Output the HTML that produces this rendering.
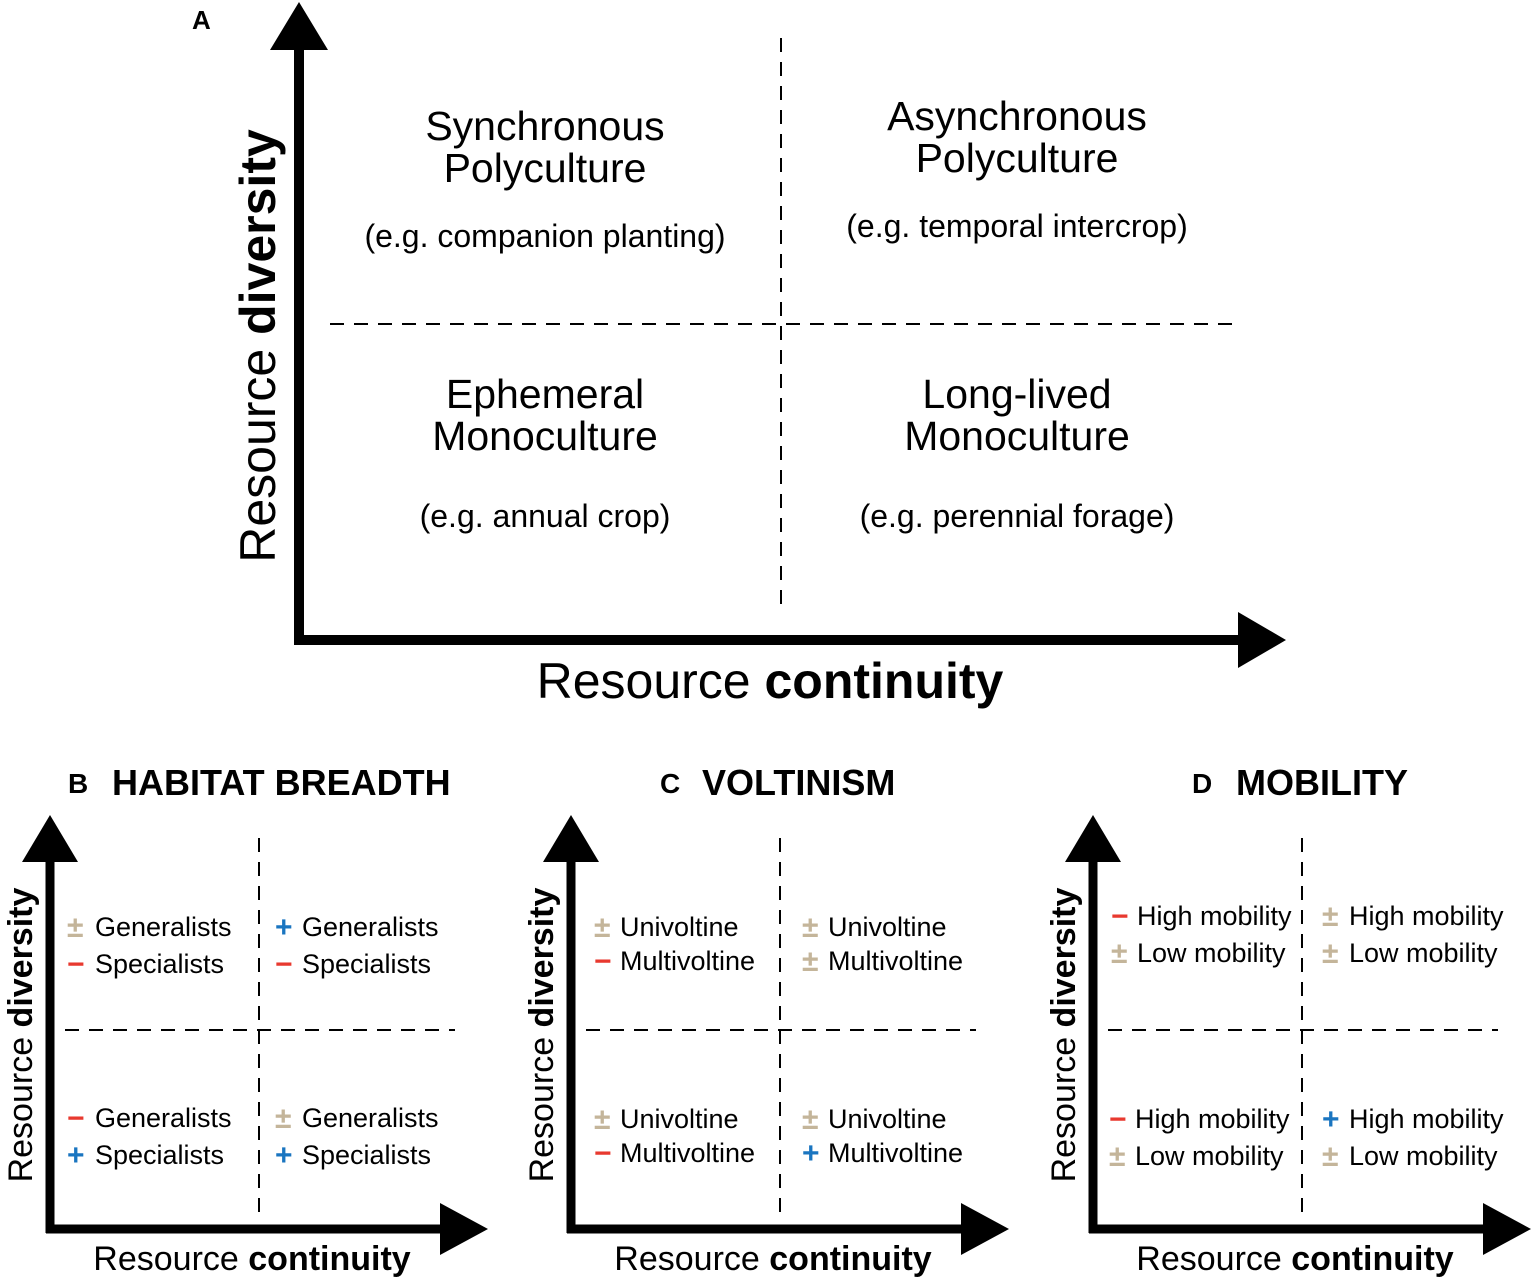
<!DOCTYPE html>
<html><head><meta charset="utf-8"><style>
html,body{margin:0;padding:0;background:#fff}
svg{display:block}
text{font-family:"Liberation Sans","DejaVu Sans",sans-serif;fill:#000}
.t{font-size:27px}
.s{font-weight:bold;font-size:30px}
.tan{fill:#c4b59a}.red{fill:#e8392f}.blue{fill:#1a75c0}
</style></head><body>
<svg width="1535" height="1282" viewBox="0 0 1535 1282" xmlns="http://www.w3.org/2000/svg">
<!-- Panel A -->
<text x="192" y="29" font-size="26" font-weight="bold">A</text>
<line x1="299" y1="40" x2="299" y2="645" stroke="#000" stroke-width="10"/>
<polygon points="270,50 328,50 299,2" fill="#000"/>
<line x1="294" y1="640" x2="1245" y2="640" stroke="#000" stroke-width="10"/>
<polygon points="1238,612 1238,668 1286,640" fill="#000"/>
<line x1="781" y1="38" x2="781" y2="608" stroke="#000" stroke-width="2" stroke-dasharray="14,10"/>
<line x1="330" y1="324" x2="1235" y2="324" stroke="#000" stroke-width="2" stroke-dasharray="14,10"/>
<g font-size="41" text-anchor="middle">
<text x="545" y="140">Synchronous</text><text x="545" y="182">Polyculture</text>
<text x="1017" y="130">Asynchronous</text><text x="1017" y="172">Polyculture</text>
<text x="545" y="408">Ephemeral</text><text x="545" y="450">Monoculture</text>
<text x="1017" y="408">Long-lived</text><text x="1017" y="450">Monoculture</text>
</g>
<g font-size="32" text-anchor="middle">
<text x="545" y="247">(e.g. companion planting)</text>
<text x="1017" y="237">(e.g. temporal intercrop)</text>
<text x="545" y="527">(e.g. annual crop)</text>
<text x="1017" y="527">(e.g. perennial forage)</text>
</g>
<text transform="translate(275,346) rotate(-90)" text-anchor="middle" font-size="50">Resource <tspan font-weight="bold">diversity</tspan></text>
<text x="770" y="698" text-anchor="middle" font-size="50">Resource <tspan font-weight="bold">continuity</tspan></text>

<!-- Panel template -->
<defs>
<g id="ax">
<line x1="50" y1="850" x2="50" y2="1233" stroke="#000" stroke-width="9"/>
<polygon points="22,862 78,862 50,815" fill="#000"/>
<line x1="46" y1="1229" x2="445" y2="1229" stroke="#000" stroke-width="9"/>
<polygon points="440,1203 440,1255 488,1229" fill="#000"/>
<line x1="259" y1="838" x2="259" y2="1222" stroke="#000" stroke-width="2" stroke-dasharray="14,10"/>
<line x1="65" y1="1030" x2="455" y2="1030" stroke="#000" stroke-width="2" stroke-dasharray="14,10"/>
<text transform="translate(32,1035) rotate(-90)" text-anchor="middle" font-size="34">Resource <tspan font-weight="bold">diversity</tspan></text>
<text x="252" y="1270" text-anchor="middle" font-size="34">Resource <tspan font-weight="bold">continuity</tspan></text>
</g>
</defs>

<!-- B -->
<use href="#ax"/>
<text x="68" y="793" font-size="28" font-weight="bold">B</text>
<text x="112" y="795" font-size="36" font-weight="bold">HABITAT BREADTH</text>
<text class="s tan" x="67" y="937">±</text><text class="t" x="95" y="936">Generalists</text>
<text class="s red" x="67" y="974">−</text><text class="t" x="95" y="973">Specialists</text>
<text class="s blue" x="275" y="937">+</text><text class="t" x="302" y="936">Generalists</text>
<text class="s red" x="275" y="974">−</text><text class="t" x="302" y="973">Specialists</text>
<text class="s red" x="67" y="1128">−</text><text class="t" x="95" y="1127">Generalists</text>
<text class="s blue" x="67" y="1165">+</text><text class="t" x="95" y="1164">Specialists</text>
<text class="s tan" x="275" y="1128">±</text><text class="t" x="302" y="1127">Generalists</text>
<text class="s blue" x="275" y="1165">+</text><text class="t" x="302" y="1164">Specialists</text>

<!-- C -->
<use href="#ax" transform="translate(521,0)"/>
<text x="660" y="793" font-size="28" font-weight="bold">C</text>
<text x="702" y="795" font-size="36" font-weight="bold">VOLTINISM</text>
<text class="s tan" x="594" y="937">±</text><text class="t" x="620" y="936">Univoltine</text>
<text class="s red" x="594" y="971">−</text><text class="t" x="620" y="970">Multivoltine</text>
<text class="s tan" x="802" y="937">±</text><text class="t" x="828" y="936">Univoltine</text>
<text class="s tan" x="802" y="971">±</text><text class="t" x="828" y="970">Multivoltine</text>
<text class="s tan" x="594" y="1129">±</text><text class="t" x="620" y="1128">Univoltine</text>
<text class="s red" x="594" y="1163">−</text><text class="t" x="620" y="1162">Multivoltine</text>
<text class="s tan" x="802" y="1129">±</text><text class="t" x="828" y="1128">Univoltine</text>
<text class="s blue" x="802" y="1163">+</text><text class="t" x="828" y="1162">Multivoltine</text>

<!-- D -->
<use href="#ax" transform="translate(1043,0)"/>
<text x="1192" y="793" font-size="28" font-weight="bold">D</text>
<text x="1236" y="795" font-size="36" font-weight="bold">MOBILITY</text>
<text class="s red" x="1111" y="926">−</text><text class="t" x="1137" y="925" font-size="25">High mobility</text>
<text class="s tan" x="1111" y="963">±</text><text class="t" x="1137" y="962" font-size="25">Low mobility</text>
<text class="s tan" x="1322" y="926">±</text><text class="t" x="1349" y="925">High mobility</text>
<text class="s tan" x="1322" y="963">±</text><text class="t" x="1349" y="962">Low mobility</text>
<text class="s red" x="1109" y="1129">−</text><text class="t" x="1135" y="1128" font-size="25">High mobility</text>
<text class="s tan" x="1109" y="1166">±</text><text class="t" x="1135" y="1165" font-size="25">Low mobility</text>
<text class="s blue" x="1322" y="1129">+</text><text class="t" x="1349" y="1128" font-size="25">High mobility</text>
<text class="s tan" x="1322" y="1166">±</text><text class="t" x="1349" y="1165" font-size="25">Low mobility</text>
</svg>
</body></html>
